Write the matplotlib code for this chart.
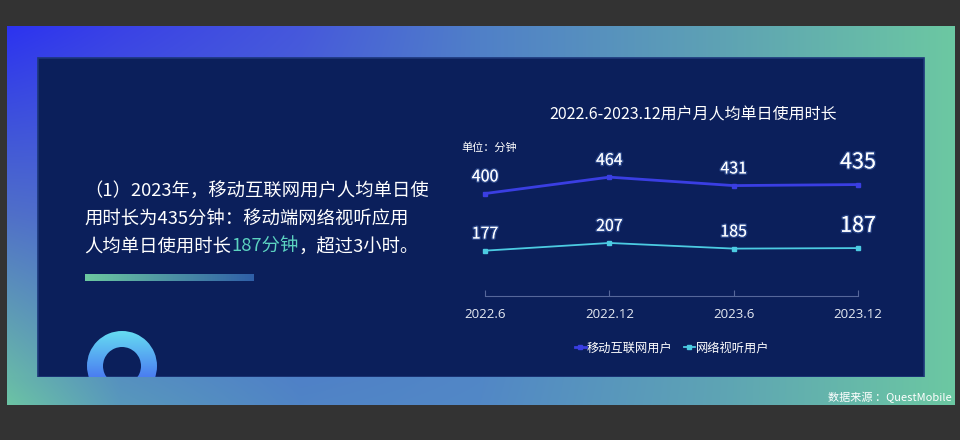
import numpy as np
import matplotlib.pyplot as plt
from matplotlib.colors import to_rgb
from matplotlib.patches import Rectangle, Wedge
import matplotlib.patheffects as pe

plt.rcParams['font.family'] = ['Noto Sans CJK SC', 'DejaVu Sans']

# data
periods = ['2022.6', '2022.12', '2023.6', '2023.12']
mobile_users = [400, 464, 431, 435]
video_users = [177, 207, 185, 187]
series_names = ['移动互联网用户', '网络视听用户']

title = '2022.6-2023.12用户月人均单日使用时长'
unit_label = '单位：分钟'
source = '数据来源 ：QuestMobile'
text_lines = ['（1）2023年，移动互联网用户人均单日使',
              '用时长为435分钟：移动端网络视听应用']
text_last = ['人均单日使用时长', '187分钟', '，超过3小时。']

W, H = 960, 440
fig = plt.figure(figsize=(9.6, 4.4), dpi=100, facecolor='#333333')
bg = fig.add_axes([0, 0, 1, 1])
bg.set_axis_off()

# gradient frame, colours sampled along top / middle / bottom rows
cols_x = [7, 120, 300, 480, 720, 955]
top = ['#2c33f0', '#3a42e6', '#4658dc', '#5080c8', '#5ea2b4', '#6cc8a2']
mid = ['#5070c8', '#4c6ad2', '#4c6ed0', '#5080c8', '#5ea2b4', '#6cc8a2']
bot = ['#6cc4a4', '#5898bc', '#5084c6', '#5288c6', '#5ea4b4', '#6cc8a2']
xs = np.arange(7, 956)
def row(cs):
    arr = np.array([to_rgb(c) for c in cs])
    return np.stack([np.interp(xs, cols_x, arr[:, k]) for k in range(3)], axis=-1)
rt, rm, rb = row(top), row(mid), row(bot)
ys = np.linspace(0, 1, 200)[:, None, None]
img = np.where(ys < 0.5, rt + (rm - rt) * (ys / 0.5), rm + (rb - rm) * ((ys - 0.5) / 0.5))
bg.imshow(img, extent=(7, 955, 405, 26), aspect='auto', interpolation='bilinear', zorder=0)

# inner panel
panel = Rectangle((38, 58), 886, 319, facecolor='#0b1f5b', edgecolor='#1c3679', lw=1.2, zorder=1)
bg.add_patch(panel)

# ring decoration with vertical gradient
ring = Wedge((122, 366), 35, 0, 360, width=16, facecolor='none', edgecolor='none')
bg.add_patch(ring)
grad = np.linspace(0, 1, 100)[:, None, None]
c1, c2 = np.array(to_rgb('#66dcf2')), np.array(to_rgb('#3c4cf0'))
ring_img = c1 + (c2 - c1) * grad
im = bg.imshow(ring_img, extent=(87, 157, 401, 331), aspect='auto', zorder=2)
im.set_clip_path(ring)
# frame strip below the panel drawn again over the ring
bg.imshow(img[-16:, :], extent=(7, 955, 405, 377.5), aspect='auto', interpolation='bilinear', zorder=3)

# text bar
bar = np.stack([np.linspace(0, 1, 100)] * 2)
bc1, bc2 = np.array(to_rgb('#6cc8a0')), np.array(to_rgb('#2f5fa8'))
bar_img = bc1 + (bc2 - bc1) * bar[..., None]
bg.imshow(bar_img, extent=(85, 254, 281.5, 274.5), aspect='auto', zorder=2)

bg.set_xlim(0, W)
bg.set_ylim(H, 0)

# left paragraph
fs_body = 13.2
for i, line in enumerate(text_lines):
    bg.text(84, 192 + i * 27.5, line, color='white', fontsize=fs_body, va='center', ha='left', zorder=4)
renderer = fig.canvas.get_renderer()
x = 84
for part, col in zip(text_last, ['white', '#5cd2c0', 'white']):
    t = bg.text(x, 247, part, color=col, fontsize=fs_body, va='center', ha='left', zorder=4)
    x += t.get_window_extent(renderer).width

# chart title, unit and source
bg.text(693, 115, title, color='white', fontsize=11.5, ha='center', va='center', zorder=4)
bg.text(461, 148, unit_label, color='white', fontsize=8, ha='left', va='center', zorder=4)
bg.text(952, 397, source, color='white', fontsize=8, ha='right', va='center', zorder=4)

# line chart
ax = fig.add_axes([485 / W, 1 - 296 / H, (858 - 485) / W, (296 - 130) / H])
ax.set_facecolor('none')
xi = np.arange(len(periods))
ax.plot(xi, mobile_users, color='#3a3ee2', lw=2, marker='s', ms=3.5, clip_on=False, label=series_names[0])
ax.plot(xi, video_users, color='#4ccbe2', lw=1.3, marker='s', ms=3, clip_on=False, label=series_names[1])
ax.set_xlim(0, 3)
ax.set_ylim(0, 648)

glow = [pe.withStroke(linewidth=2, foreground=(0.35, 0.5, 0.8, 0.4))]
for vals in (mobile_users, video_users):
    for i, v in enumerate(vals):
        last = i == len(vals) - 1
        ax.annotate(str(v), (i, v), xytext=(0, 16 if last else 12), textcoords='offset points',
                    ha='center', va='center', color='white', fontsize=15.5 if last else 11.5,
                    path_effects=glow, annotation_clip=False)

for s in ['top', 'right', 'left']:
    ax.spines[s].set_visible(False)
ax.spines['bottom'].set_color('#56679a')
ax.set_yticks([])
ax.set_xticks(xi)
ax.set_xticklabels(periods, fontfamily=['Open Sans', 'DejaVu Sans'])
ax.tick_params(axis='x', direction='in', length=4, color='#56679a', labelcolor='#e6eaf2',
               labelsize=9.5, pad=9)

ax.legend(loc='center', bbox_to_anchor=(672 / W, 1 - 348 / H), bbox_transform=fig.transFigure,
          ncol=2, frameon=False, handlelength=0.9, handletextpad=0.1, columnspacing=0.9,
          fontsize=8.8, labelcolor='white')

fig.savefig('out.png', dpi=100, facecolor=fig.get_facecolor())
